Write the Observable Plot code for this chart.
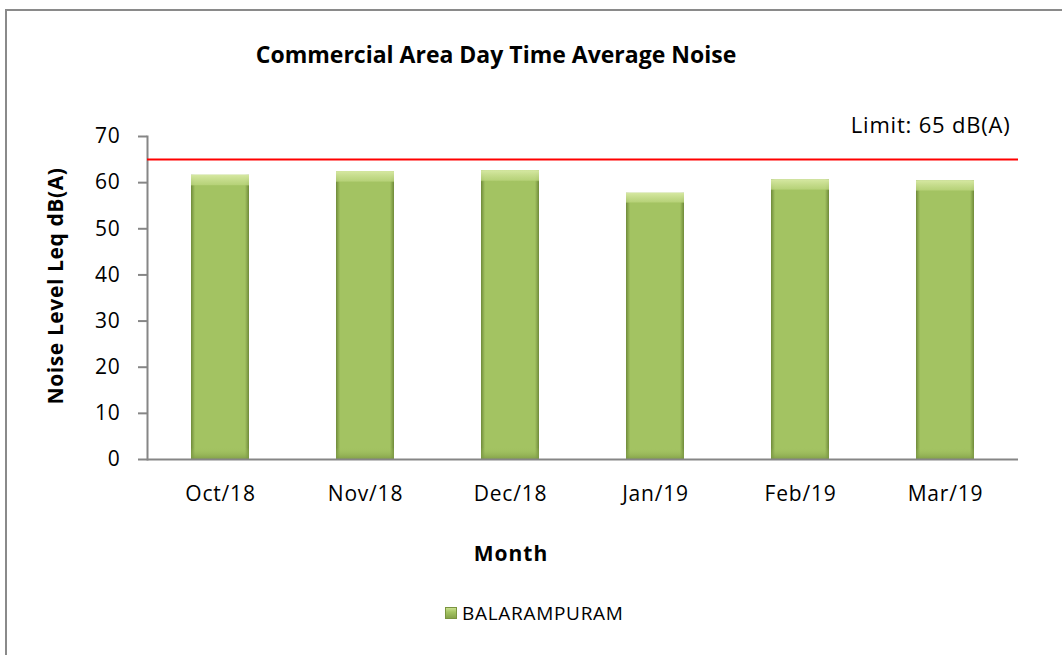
<!DOCTYPE html>
<html>
<head>
<meta charset="utf-8">
<script src="https://cdn.jsdelivr.net/npm/d3@7"></script>
<script src="https://cdn.jsdelivr.net/npm/@observablehq/plot@0.6"></script>
<style>
  html, body { margin: 0; padding: 0; background: #fff; overflow: hidden; width: 1062px; height: 655px; }
  #wrap { position: relative; width: 1062px; height: 655px; overflow: hidden; font-family: "Open Sans", sans-serif; }
  #border { position: absolute; left: 5px; top: 9px; width: 1200px; height: 800px; border: 2px solid #8a8a8a; box-sizing: border-box; }
  #chart { position: absolute; left: 0; top: 0; }
  #chart svg text { letter-spacing: 0.8px; }
  #title { position: absolute; top: 38px; left: 0; width: 992px; text-align: center; font-weight: bold; font-size: 23px; color: #000; }
  #ylab { position: absolute; left: 55px; top: 286px; transform: translate(-50%, -50%) rotate(-90deg); white-space: nowrap; font-weight: bold; font-size: 21px; letter-spacing: 0.6px; color: #000; }
  #xlab { position: absolute; left: 511px; top: 553px; transform: translate(-50%, -50%); font-weight: bold; font-size: 21px; letter-spacing: 1px; color: #000; }
  #legend { position: absolute; left: 445px; top: 600px; display: flex; align-items: center; font-size: 19px; letter-spacing: 0.7px; color: #000; }
  #legend .sw { width: 12px; height: 12px; margin-right: 5px; background: linear-gradient(to bottom, #c9df8f 0%, #a4c462 40%, #86a34a 100%); border: 1px solid #7a9440; box-sizing: border-box; }
</style>
</head>
<body>
<svg width="0" height="0" style="position:absolute">
  <defs>
    <linearGradient id="barH" x1="0" y1="0" x2="1" y2="0">
      <stop offset="0%" stop-color="#6f8a3a"/>
      <stop offset="7%" stop-color="#a3c362"/>
      <stop offset="93%" stop-color="#a3c362"/>
      <stop offset="100%" stop-color="#6f8a3a"/>
    </linearGradient>
    <linearGradient id="barV" x1="0" y1="0" x2="0" y2="1">
      <stop offset="0%" stop-color="#d6e8a2" stop-opacity="1"/>
      <stop offset="3.5%" stop-color="#bcd67f" stop-opacity="0.8"/>
      <stop offset="4%" stop-color="#a3c362" stop-opacity="0"/>
      <stop offset="96%" stop-color="#a3c362" stop-opacity="0"/>
      <stop offset="100%" stop-color="#7b9843" stop-opacity="0.8"/>
    </linearGradient>
  </defs>
</svg>
<div id="wrap">
  <div id="border"></div>
  <div id="chart"></div>
  <div id="title">Commercial Area Day Time Average Noise</div>
  <div id="ylab">Noise Level Leq dB(A)</div>
  <div id="xlab">Month</div>
  <div id="legend"><div class="sw"></div><span id="legtext"></span></div>
</div>
<script>
const months = ["Oct/18", "Nov/18", "Dec/18", "Jan/19", "Feb/19", "Mar/19"];
const noise = [61.6, 62.4, 62.6, 57.7, 60.6, 60.4];
const yTicks = [0, 10, 20, 30, 40, 50, 60, 70];
const limitValue = 65;
const limitLabel = "Limit: 65 dB(A)";
const seriesName = "BALARAMPURAM";

document.getElementById("legtext").textContent = seriesName;

const data = months.map((m, i) => ({month: m, value: noise[i]}));

const plot = Plot.plot({
  width: 1062,
  height: 655,
  marginLeft: 147,
  marginRight: 44,
  marginTop: 136,
  marginBottom: 196,
  style: {fontFamily: "'Open Sans', sans-serif", background: "transparent", overflow: "visible", color: "#000"},
  x: {domain: months, paddingInner: 0.6, paddingOuter: 0.3, label: null},
  y: {domain: [0, 70], label: null},
  marks: [
    Plot.barY(data, {x: "month", y: "value", fill: "url(#barH)"}),
    Plot.barY(data, {x: "month", y: "value", fill: "url(#barV)"}),
    Plot.frame({anchor: "left", stroke: "#868686", strokeWidth: 2}),
    Plot.ruleY([0], {stroke: "#868686", strokeWidth: 2}),
    Plot.ruleY([limitValue], {stroke: "#ff0000", strokeWidth: 2}),
    Plot.text([limitLabel], {frameAnchor: "right", y: [limitValue], text: d => d, textAnchor: "end", dx: -8, dy: -34, fontSize: 22, fill: "#000"}),
    Plot.axisY({ticks: yTicks, tickSize: 9, tickPadding: 18, stroke: "#868686", strokeWidth: 2, strokeOpacity: 1, fontSize: 21, fill: "#000", label: null, tickFormat: d => d}),
    Plot.axisX({tickSize: 0, tickPadding: 27, fontSize: 21, fill: "#000", label: null})
  ]
});
document.getElementById("chart").appendChild(plot);
</script>
</body>
</html>
